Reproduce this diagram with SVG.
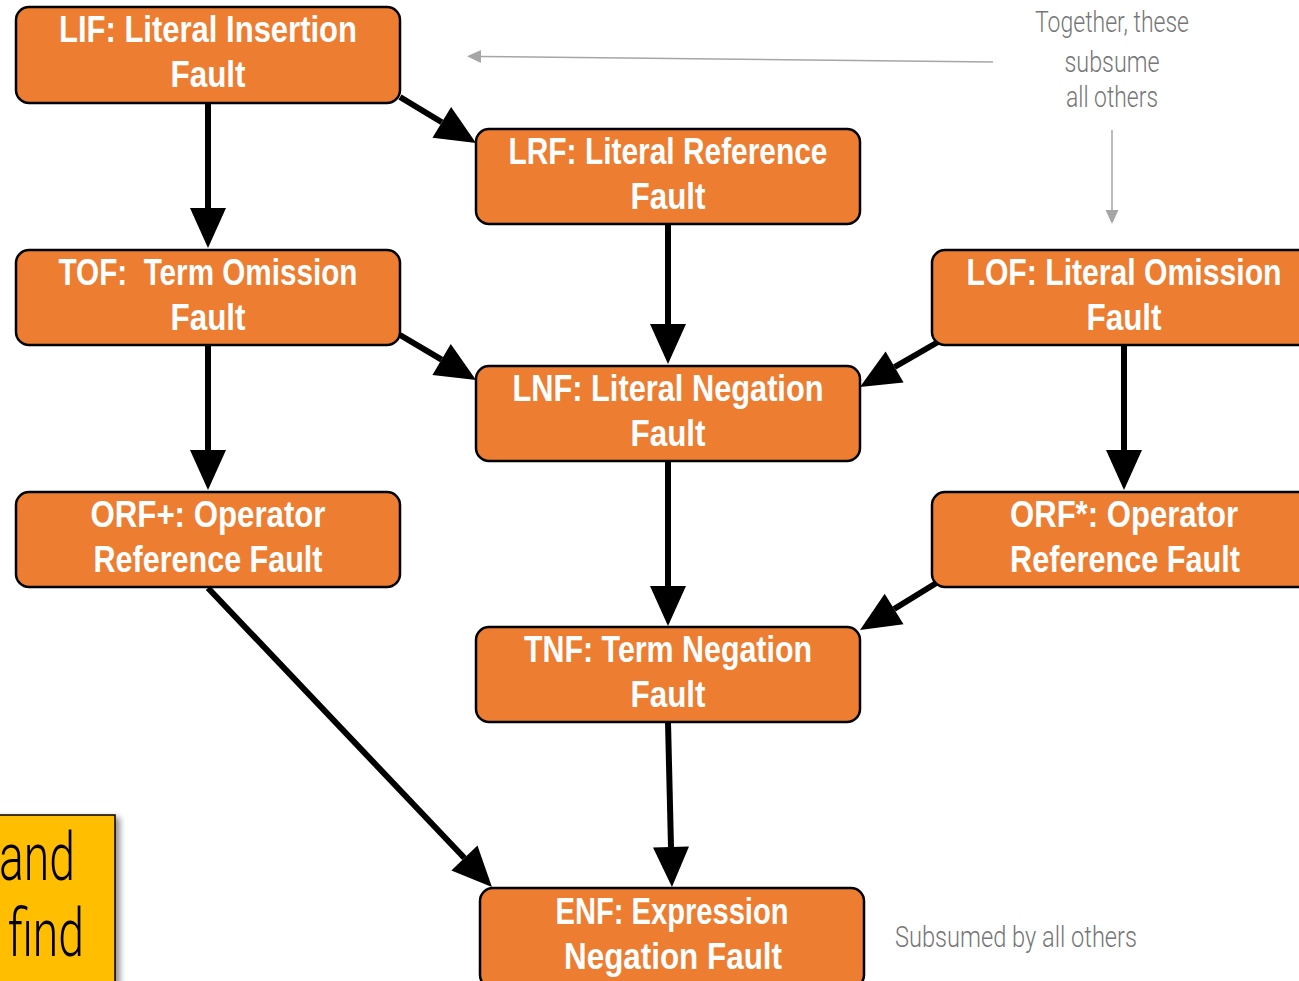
<svg xmlns="http://www.w3.org/2000/svg" width="1299" height="981" viewBox="0 0 1299 981">
<style>
.node rect{fill:#ED7D31;stroke:#000;stroke-width:2.5}
.node text{font-family:"Liberation Sans",Arial,sans-serif;font-weight:bold;font-size:36px;fill:#fff;text-anchor:middle}
.conn line{stroke:#000;stroke-width:6}
.gray line{stroke:#A6A6A6;stroke-width:1.5}
.note{font-family:Roboto,"Liberation Sans",sans-serif;font-weight:300;font-size:30px;fill:#767676}
.big{font-family:Roboto,"Liberation Sans",sans-serif;font-weight:300;font-size:66px;fill:#000}
</style>
<defs>
<marker id="ah" viewBox="0 -20 42 40" refX="0" refY="0" markerWidth="42" markerHeight="40" markerUnits="userSpaceOnUse" orient="auto" overflow="visible">
<path d="M0,-18 L40,0 L0,18 z" fill="#000"/>
</marker>
<marker id="gh" viewBox="0 -8 16 16" refX="0" refY="0" markerWidth="16" markerHeight="16" markerUnits="userSpaceOnUse" orient="auto" overflow="visible">
<path d="M0,-6.5 L14,0 L0,6.5 z" fill="#A6A6A6"/>
</marker>
<filter id="sh" x="-20%" y="-20%" width="150%" height="150%">
<feGaussianBlur in="SourceAlpha" stdDeviation="3"/>
<feOffset dx="4" dy="3"/>
<feComponentTransfer><feFuncA type="linear" slope="0.45"/></feComponentTransfer>
<feMerge><feMergeNode/><feMergeNode in="SourceGraphic"/></feMerge>
</filter>
</defs>

<g id="yellow-box">
<rect x="-10" y="815" width="125" height="180" fill="#FFBF00" stroke="#000" stroke-width="1.5" filter="url(#sh)"/>
<text class="big" x="-1" y="880" textLength="76" lengthAdjust="spacingAndGlyphs">and</text>
<text class="big" x="8" y="956" textLength="76" lengthAdjust="spacingAndGlyphs">find</text>
</g>

<g id="connectors" class="conn">
<line x1="208" y1="103" x2="208" y2="208" marker-end="url(#ah)"/>
<line x1="400" y1="97" x2="441.8" y2="122.3" marker-end="url(#ah)"/>
<line x1="668" y1="224" x2="668" y2="324" marker-end="url(#ah)"/>
<line x1="400" y1="335" x2="441.6" y2="359.6" marker-end="url(#ah)"/>
<line x1="938" y1="342" x2="894.6" y2="367" marker-end="url(#ah)"/>
<line x1="208" y1="345" x2="208" y2="450" marker-end="url(#ah)"/>
<line x1="1124" y1="345" x2="1124" y2="450" marker-end="url(#ah)"/>
<line x1="668" y1="461" x2="668" y2="586" marker-end="url(#ah)"/>
<line x1="938" y1="582" x2="894.1" y2="609" marker-end="url(#ah)"/>
<line x1="208" y1="588" x2="464.4" y2="858" marker-end="url(#ah)"/>
<line x1="668" y1="722" x2="671" y2="847" marker-end="url(#ah)"/>
</g>

<g id="annotation-arrows" class="gray">
<line x1="993" y1="62" x2="481" y2="56.5" marker-end="url(#gh)"/>
<line x1="1112" y1="130" x2="1112" y2="210" marker-end="url(#gh)"/>
</g>

<g id="LIF" class="node">
<rect x="16" y="7" width="384" height="96" rx="13"/>
<text x="208" y="42" textLength="298" lengthAdjust="spacingAndGlyphs">LIF: Literal Insertion</text>
<text x="208" y="87" textLength="75" lengthAdjust="spacingAndGlyphs">Fault</text>
</g>
<g id="LRF" class="node">
<rect x="476" y="129" width="384" height="95" rx="13"/>
<text x="668" y="164" textLength="319" lengthAdjust="spacingAndGlyphs">LRF: Literal Reference</text>
<text x="668" y="209" textLength="75" lengthAdjust="spacingAndGlyphs">Fault</text>
</g>
<g id="TOF" class="node">
<rect x="16" y="250" width="384" height="95" rx="13"/>
<text x="208" y="285" textLength="299" lengthAdjust="spacingAndGlyphs" style="white-space:pre">TOF:  Term Omission</text>
<text x="208" y="330" textLength="75" lengthAdjust="spacingAndGlyphs">Fault</text>
</g>
<g id="LOF" class="node">
<rect x="932" y="250" width="384" height="95" rx="13"/>
<text x="1124" y="285" textLength="315" lengthAdjust="spacingAndGlyphs">LOF: Literal Omission</text>
<text x="1124" y="330" textLength="75" lengthAdjust="spacingAndGlyphs">Fault</text>
</g>
<g id="LNF" class="node">
<rect x="476" y="366" width="384" height="95" rx="13"/>
<text x="668" y="401" textLength="311" lengthAdjust="spacingAndGlyphs">LNF: Literal Negation</text>
<text x="668" y="446" textLength="75" lengthAdjust="spacingAndGlyphs">Fault</text>
</g>
<g id="ORFplus" class="node">
<rect x="16" y="492" width="384" height="95" rx="13"/>
<text x="208" y="527" textLength="235" lengthAdjust="spacingAndGlyphs">ORF+: Operator</text>
<text x="208" y="572" textLength="229" lengthAdjust="spacingAndGlyphs">Reference Fault</text>
</g>
<g id="ORFstar" class="node">
<rect x="932" y="492" width="384" height="95" rx="13"/>
<text x="1124" y="527" textLength="228" lengthAdjust="spacingAndGlyphs">ORF*: Operator</text>
<text x="1125" y="572" textLength="230" lengthAdjust="spacingAndGlyphs">Reference Fault</text>
</g>
<g id="TNF" class="node">
<rect x="476" y="627" width="384" height="95" rx="13"/>
<text x="668" y="662" textLength="288" lengthAdjust="spacingAndGlyphs">TNF: Term Negation</text>
<text x="668" y="707" textLength="75" lengthAdjust="spacingAndGlyphs">Fault</text>
</g>
<g id="ENF" class="node">
<rect x="480" y="888" width="384" height="100" rx="13"/>
<text x="672" y="924" textLength="233" lengthAdjust="spacingAndGlyphs">ENF: Expression</text>
<text x="673" y="969" textLength="218" lengthAdjust="spacingAndGlyphs">Negation Fault</text>
</g>

<g id="notes">
<text class="note" x="1112" y="32" text-anchor="middle" textLength="154" lengthAdjust="spacingAndGlyphs">Together, these</text>
<text class="note" x="1112" y="72" text-anchor="middle" textLength="95" lengthAdjust="spacingAndGlyphs">subsume</text>
<text class="note" x="1112" y="107" text-anchor="middle" textLength="92" lengthAdjust="spacingAndGlyphs">all others</text>
<text class="note" x="895" y="947" textLength="242" lengthAdjust="spacingAndGlyphs">Subsumed by all others</text>
</g>
</svg>
